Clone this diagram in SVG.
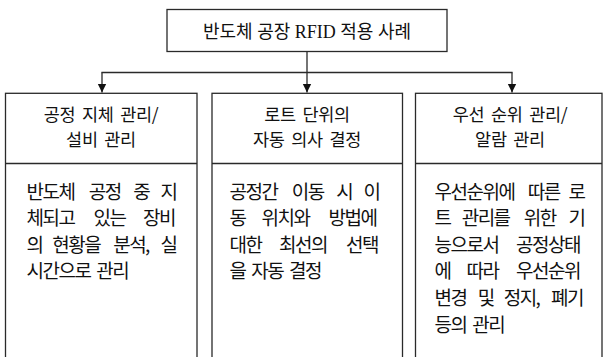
<svg xmlns="http://www.w3.org/2000/svg" width="603" height="357" viewBox="0 0 603 357">
<style>
.box{fill:#fff;stroke:#2a2a2a;stroke-width:1.3}
.ln{fill:none;stroke:#2a2a2a;stroke-width:1.3}
.title{font-family:"Liberation Serif","Noto Sans CJK KR",serif;font-size:18px;fill:#111;text-anchor:middle}
.hd{font-family:"Noto Sans CJK KR","Noto Sans",sans-serif;font-size:17.5px;fill:#111;text-anchor:middle;word-spacing:3px;letter-spacing:-0.3px}
.bd{font-family:"Noto Sans CJK KR","Noto Sans",sans-serif;font-size:19px;fill:#111;letter-spacing:-1.5px;word-spacing:3px}
</style>
<defs>
<marker id="arr" markerUnits="userSpaceOnUse" markerWidth="10" markerHeight="10" viewBox="0 0 10 10" refX="9" refY="5" orient="auto">
<path d="M0,0.6 L9,5 L0,9.4 Z" fill="#111"/>
</marker>
</defs>
<g id="connectors">
<line class="ln" x1="307" y1="51.5" x2="307" y2="92.5" marker-end="url(#arr)"/>
<line class="ln" x1="101.4" y1="72.5" x2="512.6" y2="72.5"/>
<line class="ln" x1="102" y1="72.5" x2="102" y2="92.5" marker-end="url(#arr)"/>
<line class="ln" x1="512" y1="72.5" x2="512" y2="92.5" marker-end="url(#arr)"/>
</g>
<g id="title">
<rect class="box" x="167" y="9.5" width="280" height="42"/>
<text class="title" x="307" y="38">반도체 공장 RFID 적용 사례</text>
</g>
<g id="node-left">
<rect class="box" x="5.5" y="93.3" width="191.5" height="300"/>
<line class="ln" x1="5.5" y1="163.5" x2="197" y2="163.5"/>
<text class="hd" x="101" y="120.5">공정 지체 관리/</text>
<text class="hd" x="101" y="146">설비 관리</text>
<text class="bd" y="198.5"><tspan x="26.5">반도체</tspan><tspan x="88.67">공정</tspan><tspan x="133.33">중</tspan><tspan x="160.5">지</tspan></text>
<text class="bd" y="225.1"><tspan x="26.5">체되고</tspan><tspan x="93.5">있는</tspan><tspan x="143">장비</tspan></text>
<text class="bd" y="251.7"><tspan x="26.5">의</tspan><tspan x="52.33">현황을</tspan><tspan x="113.17">분석,</tspan><tspan x="160.5">실</tspan></text>
<text class="bd" x="26.5" y="278.3">시간으로 관리</text>
</g>
<g id="node-middle">
<rect class="box" x="212" y="93.3" width="190.5" height="300"/>
<line class="ln" x1="212" y1="163.5" x2="402.5" y2="163.5"/>
<text class="hd" x="307" y="120.5">로트 단위의</text>
<text class="hd" x="307" y="146">자동 의사 결정</text>
<text class="bd" y="198.5"><tspan x="229.5">공정간</tspan><tspan x="291.67">이동</tspan><tspan x="336.33">시</tspan><tspan x="363.5">이</tspan></text>
<text class="bd" y="225.1"><tspan x="229.5">동</tspan><tspan x="261.5">위치와</tspan><tspan x="328.5">방법에</tspan></text>
<text class="bd" y="251.7"><tspan x="229.5">대한</tspan><tspan x="279">최선의</tspan><tspan x="346">선택</tspan></text>
<text class="bd" x="229.5" y="278.3">을 자동 결정</text>
</g>
<g id="node-right">
<rect class="box" x="415.5" y="93.3" width="186.5" height="300"/>
<line class="ln" x1="415.5" y1="163.5" x2="602" y2="163.5"/>
<text class="hd" x="510" y="120.5">우선 순위 관리/</text>
<text class="hd" x="510" y="146">알람 관리</text>
<text class="bd" y="198.5"><tspan x="434.5">우선순위에</tspan><tspan x="527.75">따른</tspan><tspan x="568.5">로</tspan></text>
<text class="bd" y="225.1"><tspan x="434.5">트</tspan><tspan x="461.67">관리를</tspan><tspan x="523.83">위한</tspan><tspan x="568.5">기</tspan></text>
<text class="bd" y="251.7"><tspan x="434.5">능으로서</tspan><tspan x="516">공정상태</tspan></text>
<text class="bd" y="278.3"><tspan x="434.5">에</tspan><tspan x="466.5">따라</tspan><tspan x="516">우선순위</tspan></text>
<text class="bd" y="304.9"><tspan x="434.5">변경</tspan><tspan x="477.83">및</tspan><tspan x="503.67">정지,</tspan><tspan x="551">폐기</tspan></text>
<text class="bd" x="434.5" y="331.5">등의 관리</text>
</g>
</svg>
